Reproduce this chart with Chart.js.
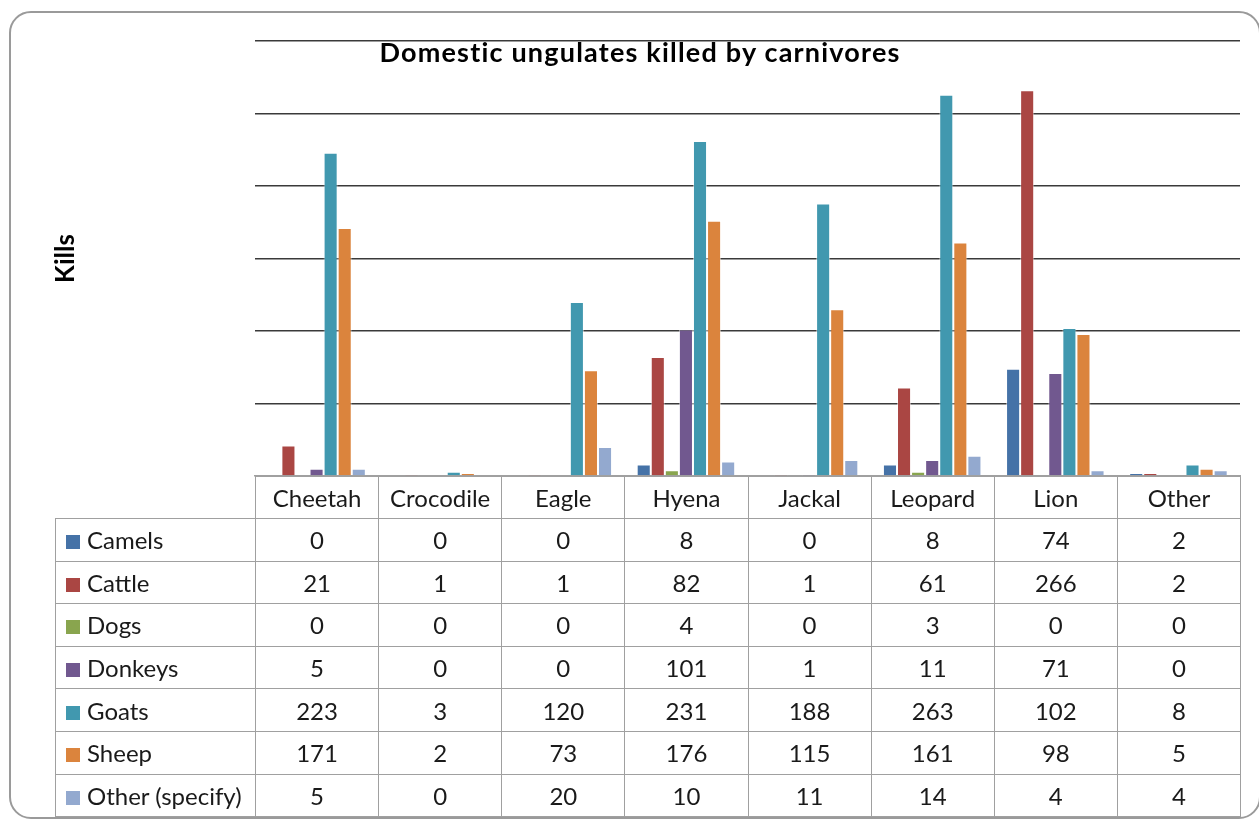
<!DOCTYPE html>
<html>
<head>
<meta charset="utf-8">
<script src="https://cdn.jsdelivr.net/npm/chart.js@4"></script>
<style>
  body { margin: 0; background: #fff; font-family: Lato, "Noto Sans", sans-serif; }
  #wrap { position: relative; width: 1259px; height: 823px; overflow: hidden; }
  #frame { position: absolute; left: 9px; top: 11px; width: 1252px; height: 808px;
           border: 2px solid #9a9a9a; border-radius: 22px; box-sizing: border-box; }
  #chart-box { position: absolute; left: 0; top: 0; width: 1259px; height: 823px; }
  #title { position: absolute; left: 0; width: 1280px; top: 35px; text-align: center;
           font-weight: bold; font-size: 27px; letter-spacing: 1.2px; color: #000; }
  #data-table { position: absolute; left: 55px; top: 476px; border-collapse: collapse;
                table-layout: fixed; font-size: 24px; color: #1a1a1a; }
  #data-table td { border: 1.5px solid #a0a0a0; text-align: center; padding: 0; }
  #data-table td.blank { border: none; border-right: 1.5px solid #a0a0a0; }
  #data-table td.name { text-align: left; padding-left: 10px; white-space: nowrap; }
  .sw { display: inline-block; width: 14px; height: 14px; margin-right: 7px; }
</style>
</head>
<body>
<div id="wrap">
  <div id="frame"></div>
  <div id="chart-box"><canvas id="chart"></canvas></div>
  <div id="title">Domestic ungulates killed by carnivores</div>
  <table id="data-table"></table>
</div>
<script>
const categories = ['Cheetah', 'Crocodile', 'Eagle', 'Hyena', 'Jackal', 'Leopard', 'Lion', 'Other'];
const seriesNames = ['Camels', 'Cattle', 'Dogs', 'Donkeys', 'Goats', 'Sheep', 'Other (specify)'];
const camels = [0, 0, 0, 8, 0, 8, 74, 2];
const cattle = [21, 1, 1, 82, 1, 61, 266, 2];
const dogs = [0, 0, 0, 4, 0, 3, 0, 0];
const donkeys = [5, 0, 0, 101, 1, 11, 71, 0];
const goats = [223, 3, 120, 231, 188, 263, 102, 8];
const sheep = [171, 2, 73, 176, 115, 161, 98, 5];
const otherSpecify = [5, 0, 20, 10, 11, 14, 4, 4];
const colors = ['#4572A7', '#AA4643', '#89A54E', '#71588F', '#4198AF', '#DB843D', '#93A9CF'];

const seriesValues = [camels, cattle, dogs, donkeys, goats, sheep, otherSpecify];

const datasets = seriesNames.map((name, i) => ({
    label: name,
    data: seriesValues[i],
    backgroundColor: colors[i],
    borderColor: 'rgba(255,255,255,0.5)',
    borderWidth: 1,
    categoryPercentage: 0.8,
    barPercentage: 1.0
}));

new Chart(document.getElementById('chart'), {
    type: 'bar',
    data: { labels: categories, datasets: datasets },
    options: {
        responsive: true,
        maintainAspectRatio: false,
        animation: false,
        layout: { padding: { top: 41, right: 19, bottom: 347, left: 50 } },
        plugins: {
            legend: { display: false },
            tooltip: { enabled: false },
            title: { display: false }
        },
        scales: {
            x: {
                ticks: { display: false },
                grid: { display: false },
                border: { color: '#a0a0a0', width: 1.5 },
                afterFit: (scale) => { scale.height = 0; }
            },
            y: {
                min: 0,
                max: 300,
                ticks: { display: false, stepSize: 50 },
                grid: {
                    color: (ctx) => ctx.tick && ctx.tick.value === 0 ? 'rgba(0,0,0,0)' : '#3a3a3a',
                    lineWidth: 1.5,
                    drawTicks: false
                },
                border: { display: false },
                title: {
                    display: true,
                    text: 'Kills',
                    color: '#000',
                    font: { family: 'Lato', size: 26, weight: 'bold' },
                    padding: { top: 0, bottom: 0 }
                },
                afterFit: (scale) => { scale.width = 205; }
            }
        }
    }
});

// data table under the plot
const table = document.getElementById('data-table');
const colW = (1240 - 255) / categories.length;
let html = '<colgroup><col style="width:200px">';
categories.forEach(() => { html += '<col style="width:' + colW + 'px">'; });
html += '</colgroup>';
html += '<tr style="height:42px"><td class="blank"></td>';
categories.forEach(c => { html += '<td>' + c + '</td>'; });
html += '</tr>';
seriesNames.forEach((name, i) => {
    html += '<tr style="height:42.6px"><td class="name"><span class="sw" style="background:' + colors[i] + '"></span>' + name + '</td>';
    seriesValues[i].forEach(v => { html += '<td>' + v + '</td>'; });
    html += '</tr>';
});
table.innerHTML = html;
</script>
</body>
</html>
